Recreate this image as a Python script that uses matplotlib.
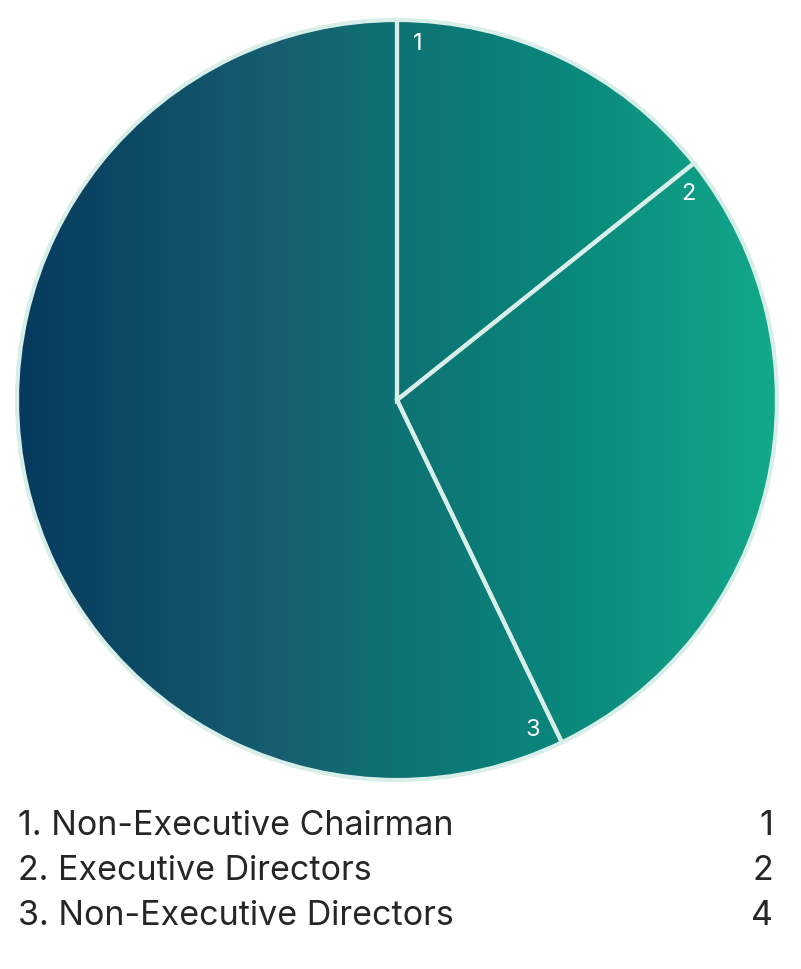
import numpy as np
import matplotlib
matplotlib.use("Agg")
import matplotlib.pyplot as plt
from matplotlib.patches import Wedge, Circle
from matplotlib.colors import LinearSegmentedColormap

labels = ["Non-Executive Chairman", "Executive Directors", "Non-Executive Directors"]
values = [1, 2, 4]

W, H = 801, 969
cx, cy, r = 397, H - 400, 380
edge = "#d8eee9"

fig = plt.figure(figsize=(W / 100, H / 100), dpi=100)
ax = fig.add_axes([0, 0, 1, 1])
ax.set_xlim(0, W)
ax.set_ylim(0, H)
ax.set_aspect("equal")
ax.axis("off")

# horizontal gradient, navy on the left to green on the right
cmap = LinearSegmentedColormap.from_list("grad", [
    (0.0, "#063a5e"),
    (0.35, "#175f70"),
    (0.5, "#0e7273"),
    (0.72, "#0a877c"),
    (1.0, "#13aa8a"),
])
grad = np.linspace(0, 1, 512).reshape(1, -1)
img = ax.imshow(grad, cmap=cmap, aspect="auto",
                extent=(cx - r, cx + r, cy - r, cy + r), zorder=1)
clip = Circle((cx, cy), r, transform=ax.transData)
img.set_clip_path(clip)

total = sum(values)
start = 0.0
for i, v in enumerate(values):
    frac = v / total
    t2 = 90 - start * 360
    t1 = 90 - (start + frac) * 360
    ax.add_patch(Wedge((cx, cy), r, t1, t2, facecolor="none",
                       edgecolor=edge, linewidth=3.0, zorder=2))
    a = np.deg2rad(t2 - 3.4)
    ax.text(cx + 357 * np.cos(a), cy + 357 * np.sin(a), str(i + 1),
            color="white", fontsize=17, fontfamily="Inter", fontweight="normal",
            ha="center", va="center", zorder=3)
    start += frac

ys = [H - 826, H - 871, H - 916]
for i, (lab, v) in enumerate(zip(labels, values)):
    ax.text(18, ys[i], f"{i + 1}. {lab}", fontsize=24.5, color="#262626",
            fontfamily="Inter", fontweight="normal", ha="left", va="center")
    ax.text(773, ys[i], str(v), fontsize=24.5, color="#262626",
            fontfamily="Inter", fontweight="normal", ha="right", va="center")

fig.savefig("out.png", dpi=100, facecolor="white")
